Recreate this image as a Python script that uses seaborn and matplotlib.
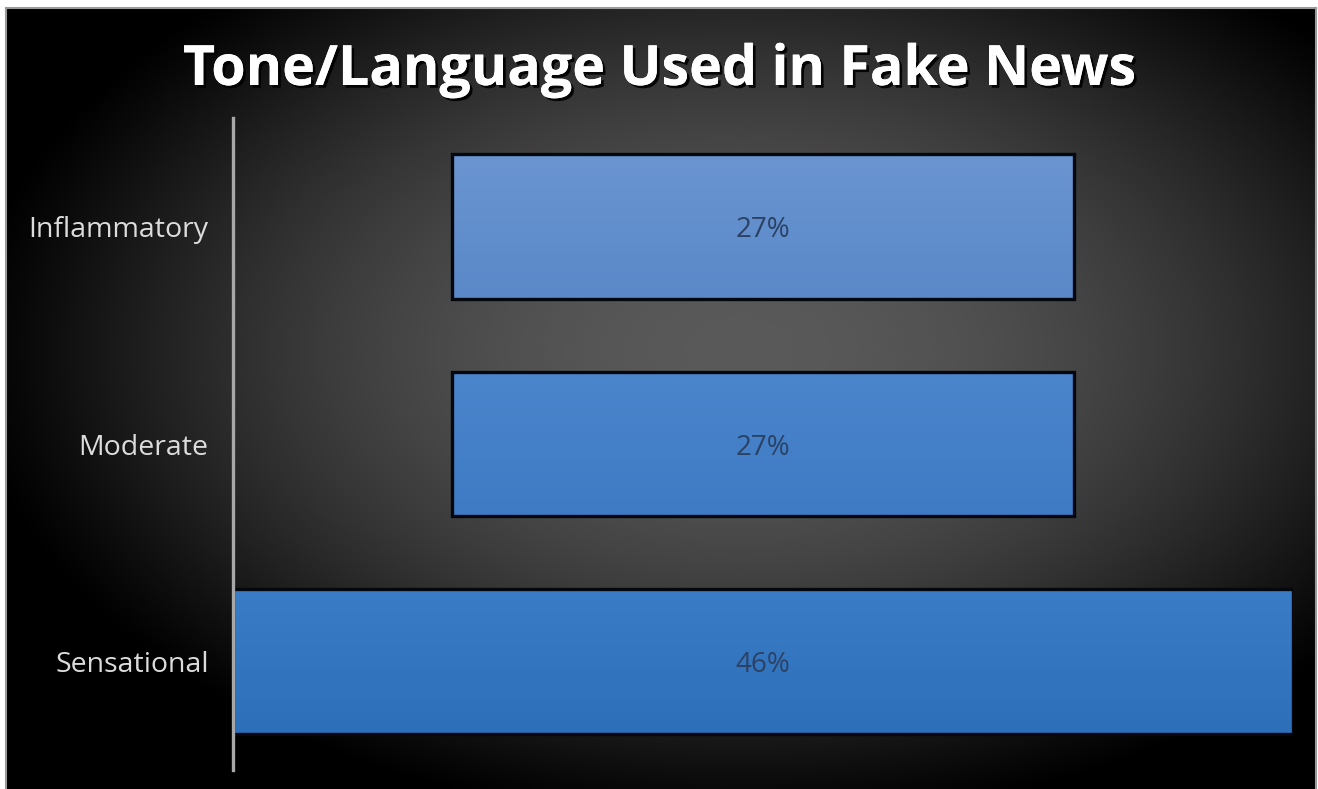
import numpy as np
import pandas as pd
import matplotlib
matplotlib.use("Agg")
import matplotlib.pyplot as plt
import matplotlib.patheffects as pe
from matplotlib.colors import LinearSegmentedColormap
import seaborn as sns

# Chart data
categories = ["Inflammatory", "Moderate", "Sensational"]
shares = [27, 27, 46]
value_labels = ["27%", "27%", "46%"]
title = "Tone/Language Used in Fake News"

# Top/bottom shades of each bar's vertical gradient
bar_top = ["#6a95d1", "#4b85cc", "#3a7cc6"]
bar_bottom = ["#5a88c8", "#3e7bc4", "#2d6fb9"]

sns.set_theme(style="white")
plt.rcParams["font.family"] = ["Open Sans", "DejaVu Sans"]

W, H = 1318, 789
fig = plt.figure(figsize=(W / 100, H / 100), dpi=100, facecolor="white")

# Dark slide background with a soft radial glow
bg = fig.add_axes([6 / W, 0, (1316 - 6) / W, (789 - 8) / H])
gx, gy = np.meshgrid(np.linspace(6, 1316, 660), np.linspace(8, 789, 400))
r2 = ((gx - 740) / 780) ** 2 + ((gy - 350) / 480) ** 2
glow = 0.35 * np.clip(1 - r2, 0, 1) ** 1.2
bg.imshow(glow, cmap="gray", vmin=0, vmax=1, aspect="auto",
          extent=[0, 1, 0, 1], origin="upper", interpolation="bicubic")
bg.set_xlim(0, 1)
bg.set_ylim(0, 1)
bg.set_xticks([])
bg.set_yticks([])
for s in bg.spines.values():
    s.set_color("#9a9a9a")
    s.set_linewidth(1.5)
bg.spines["bottom"].set_visible(False)
bg.set_zorder(0)

ax = fig.add_axes([233 / W, 19 / H, (1293 - 233) / W, (770 - 118) / H])
ax.set_zorder(1)
ax.patch.set_alpha(0)

df = pd.DataFrame({"tone": categories, "share": shares})
sns.barplot(data=df, x="share", y="tone", orient="h", ax=ax, width=0.667,
            color=bar_top[0], edgecolor="#04080e", linewidth=2.4)

# Center every bar on zero (funnel-style layout)
container = ax.containers[0]
for patch, v in zip(container.patches, shares):
    patch.set_x(-v / 2)
    patch.set_width(v)

max_v = max(shares)

# Vertical gradient fill clipped to each bar
for i, patch in enumerate(container.patches):
    cmap = LinearSegmentedColormap.from_list(f"g{i}", [bar_top[i], bar_bottom[i]])
    x0, y0 = patch.get_x(), patch.get_y()
    w, h = patch.get_width(), patch.get_height()
    grad = np.linspace(0, 1, 64).reshape(-1, 1)
    im = ax.imshow(grad, cmap=cmap, aspect="auto",
                   extent=[x0, x0 + w, y0 + h, y0], origin="upper", zorder=1.5)
    im.set_clip_path(patch)
    patch.set_facecolor("none")
    patch.set_zorder(2)

ax.set_xlim(-max_v / 2, max_v / 2)
ax.set_ylim(2.5, -0.5)

labels = ax.bar_label(container, labels=value_labels, label_type="center",
                      fontsize=20, color="#2b4264", zorder=3)
for t in labels:
    t.set_va("center_baseline")

ax.set_xlabel("")
ax.set_ylabel("")
ax.set_xticks([])
ax.tick_params(axis="y", length=0, pad=17.5, labelsize=20.5, labelcolor="#dcdcdc")
for t in ax.get_yticklabels():
    t.set_va("center_baseline")
for side in ["top", "right", "bottom"]:
    ax.spines[side].set_visible(False)
ax.spines["left"].set_color("#a8a8a8")
ax.spines["left"].set_linewidth(2.4)
ax.spines["left"].set_zorder(4)

fig.text(0.5, (H - 85) / H, title, ha="center", va="baseline",
         fontsize=40, fontweight="bold", color="white",
         path_effects=[pe.withSimplePatchShadow(offset=(2, -2), shadow_rgbFace="black", alpha=0.9),
                       pe.Normal()])

fig.savefig("out.png", dpi=100, facecolor=fig.get_facecolor())
